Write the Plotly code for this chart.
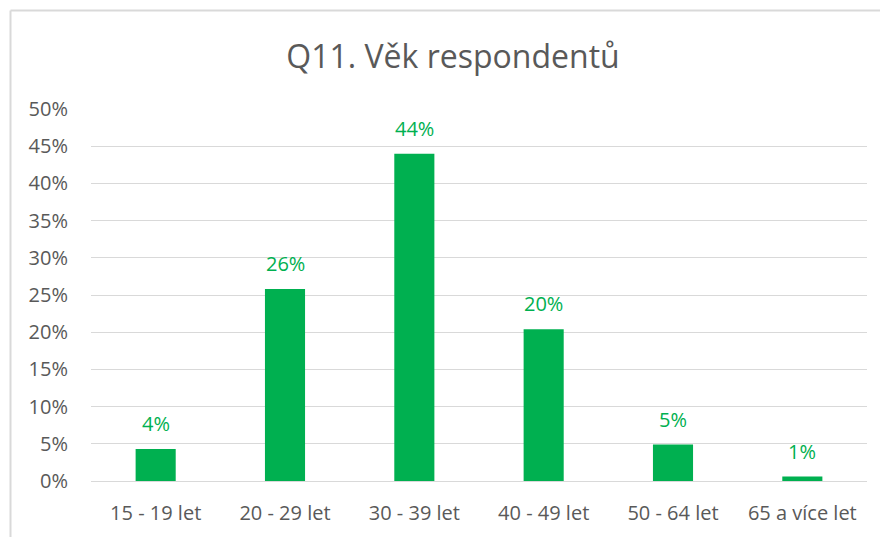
import plotly.graph_objects as go

categories = ["15 - 19 let", "20 - 29 let", "30 - 39 let", "40 - 49 let", "50 - 64 let", "65 a více let"]
values = [0.043, 0.258, 0.44, 0.204, 0.049, 0.006]
y_ticks = [0, 0.05, 0.10, 0.15, 0.20, 0.25, 0.30, 0.35, 0.40, 0.45, 0.50]
y_ticktext = ["0%", "5%", "10%", "15%", "20%", "25%", "30%", "35%", "40%", "45%", "50%"]
title_text = "Q11. Věk respondentů"

GREEN = "#00B050"
GRAY = "#595959"
GRID = "#d9d9d9"
FONT = "Open Sans"

fig = go.Figure(go.Bar(
    x=categories, y=values,
    marker=dict(color=GREEN, line=dict(width=0)),
    width=0.31,
    hoverinfo="x+y",
))

annotations = [
    dict(x=c, y=v, xref="x", yref="y", text=f"{round(v * 100)}%", showarrow=False,
         yanchor="bottom", yshift=10,
         font=dict(color=GREEN, size=20, family=FONT))
    for c, v in zip(categories, values)
]

# page body has an 8px margin, so the figure is 8px smaller than the window
W, H = 880, 529
l, t = 83, 101
pw, ph = 776, 372
r, b = W - l - pw, H - t - ph
fx = (2.5 - l) / pw
fy = 1 + (t - 2.5) / ph

fig.update_layout(
    width=W, height=H,
    margin=dict(l=l, r=r, t=t, b=b),
    paper_bgcolor="white", plot_bgcolor="white",
    showlegend=False,
    title=dict(text=title_text, x=(445 - l) / pw, xref="paper", xanchor="center",
               y=1 - 49 / H, yanchor="middle",
               font=dict(family=FONT, size=32, color=GRAY)),
    font=dict(family=FONT, color=GRAY),
    annotations=annotations,
    xaxis=dict(showgrid=False, showline=False, ticks="", ticklabelstandoff=18,
               tickfont=dict(size=20, color=GRAY, family=FONT)),
    yaxis=dict(range=[0, 0.5], tickvals=y_ticks, ticktext=y_ticktext,
               showgrid=True, gridcolor=GRID, gridwidth=1,
               zeroline=True, zerolinecolor=GRID, zerolinewidth=1,
               showline=False, ticks="", ticklabelstandoff=22,
               tickfont=dict(size=20, color=GRAY, family=FONT)),
    shapes=[
        dict(type="line", xref="paper", yref="paper", x0=fx, x1=fx, y0=-0.5, y1=fy,
             line=dict(color=GRID, width=2)),
        dict(type="line", xref="paper", yref="paper", x0=fx, x1=1.5, y0=fy, y1=fy,
             line=dict(color=GRID, width=2)),
    ],
)

fig.write_html("out.html")
